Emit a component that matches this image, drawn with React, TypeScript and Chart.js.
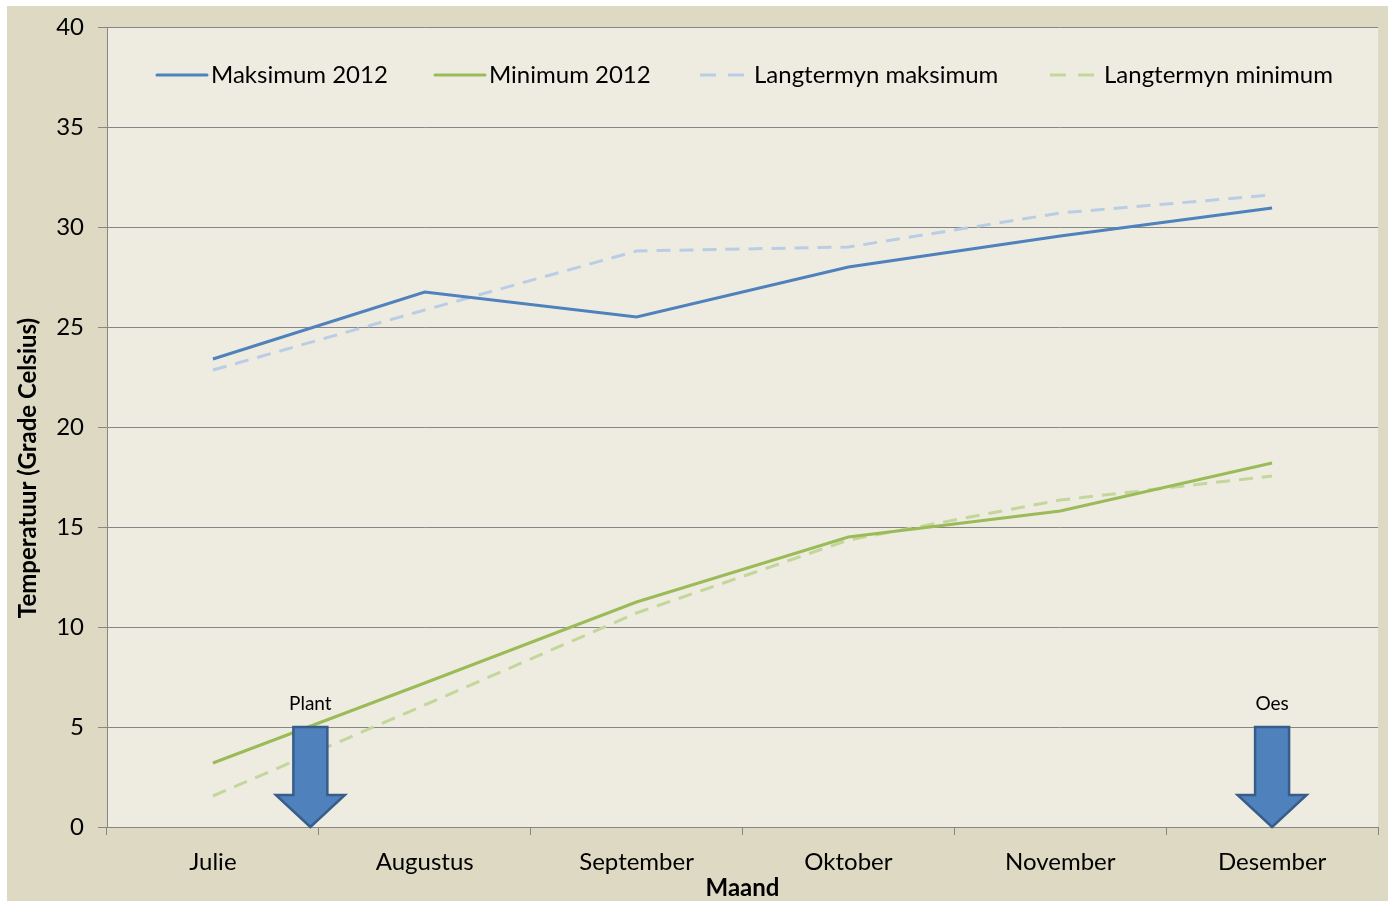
import React, { useEffect, useRef } from "react";
import { Chart, registerables } from "chart.js";

Chart.register(...registerables);

const months = ["Julie", "Augustus", "September", "Oktober", "November", "Desember"];
const maksimum2012 = [23.4, 26.75, 25.5, 28.0, 29.55, 30.95];
const minimum2012 = [3.2, 7.2, 11.25, 14.5, 15.8, 18.2];
const langMaksimum = [22.85, 25.85, 28.8, 29.0, 30.7, 31.6];
const langMinimum = [1.55, 6.1, 10.7, 14.35, 16.35, 17.55];
const seriesNames = ["Maksimum 2012", "Minimum 2012", "Langtermyn maksimum", "Langtermyn minimum"];
const yMin = 0;
const yMax = 40;
const yStep = 5;
const arrowLabels = ["Plant", "Oes"];
const arrowCategory = [0.46, 5];
const arrowTopValue = [5, 5];
const xTitle = "Maand";
const yTitle = "Temperatuur (Grade Celsius)";

const FONT = "Lato, 'Open Sans', sans-serif";
const GRID = "#868686";
const legendStarts = [150, 428, 693, 1043];

const customPlugin = {
  id: "excelLook",
  beforeDraw(chart: any) {
    const { ctx, chartArea: a, width, height } = chart;
    ctx.save();
    ctx.fillStyle = "#ddd9c3";
    ctx.fillRect(0, 0, width, height);
    ctx.fillStyle = "#eeece1";
    ctx.fillRect(a.left, a.top, a.right - a.left, a.bottom - a.top);
    ctx.restore();
  },
  afterDraw(chart: any) {
    const { ctx } = chart;
    const xs = chart.scales.x;
    const ys = chart.scales.y;
    ctx.save();
    // arrows
    arrowLabels.forEach((lab, i) => {
      const c = arrowCategory[i];
      const i0 = Math.floor(c);
      const p0 = xs.getPixelForValue(i0);
      const p1 = xs.getPixelForValue(i0 + 1);
      const cx = p0 + (p1 - p0) * (c - i0);
      const top = ys.getPixelForValue(arrowTopValue[i]);
      const tip = ys.getPixelForValue(0);
      const sw = 17;
      const hw = 34.5;
      const headStart = tip - 32;
      ctx.beginPath();
      ctx.moveTo(cx - sw, top);
      ctx.lineTo(cx + sw, top);
      ctx.lineTo(cx + sw, headStart);
      ctx.lineTo(cx + hw, headStart);
      ctx.lineTo(cx, tip);
      ctx.lineTo(cx - hw, headStart);
      ctx.lineTo(cx - sw, headStart);
      ctx.closePath();
      ctx.fillStyle = "#4f81bd";
      ctx.fill();
      ctx.strokeStyle = "#385d8a";
      ctx.lineWidth = 2.5;
      ctx.lineJoin = "miter";
      ctx.stroke();
      ctx.fillStyle = "#000";
      ctx.font = `19px ${FONT}`;
      ctx.textAlign = "center";
      ctx.textBaseline = "middle";
      ctx.fillText(lab, cx, top - 23);
    });
    // legend
    const ds = chart.data.datasets;
    ctx.font = `24px ${FONT}`;
    ctx.textAlign = "left";
    ctx.textBaseline = "middle";
    const ly = 69;
    ds.forEach((d: any, i: number) => {
      const x0 = legendStarts[i];
      const dashed = d.borderDash && d.borderDash.length;
      ctx.beginPath();
      ctx.strokeStyle = d.borderColor;
      ctx.lineWidth = 3;
      ctx.lineCap = dashed ? "butt" : "round";
      ctx.setLineDash(dashed ? [16, 12] : []);
      ctx.moveTo(x0, ly);
      ctx.lineTo(x0 + (dashed ? 44 : 50), ly);
      ctx.stroke();
      ctx.setLineDash([]);
      ctx.fillStyle = "#000";
      ctx.fillText(d.label, x0 + 54, ly);
    });
    // y title
    ctx.translate(21, 462);
    ctx.rotate(-Math.PI / 2);
    ctx.font = `bold 24px ${FONT}`;
    ctx.textAlign = "center";
    ctx.textBaseline = "middle";
    ctx.fillStyle = "#000";
    ctx.fillText(yTitle, 0, 0);
    ctx.restore();
  },
};

export default function App() {
  const ref = useRef<HTMLCanvasElement | null>(null);
  useEffect(() => {
    if (!ref.current) return;
    const chart = new Chart(ref.current, {
      type: "line",
      data: {
        labels: months,
        datasets: [
          { label: seriesNames[0], data: maksimum2012, borderColor: "#4f81bd", borderWidth: 3, pointRadius: 0, tension: 0, borderDash: [] },
          { label: seriesNames[1], data: minimum2012, borderColor: "#9bbb59", borderWidth: 3, pointRadius: 0, tension: 0, borderDash: [] },
          { label: seriesNames[2], data: langMaksimum, borderColor: "#b9cde5", borderWidth: 3, pointRadius: 0, tension: 0, borderDash: [14, 9] },
          { label: seriesNames[3], data: langMinimum, borderColor: "#c3d69b", borderWidth: 3, pointRadius: 0, tension: 0, borderDash: [14, 9] },
        ],
      },
      options: {
        animation: false,
        responsive: false,
        layout: { padding: { top: 21, right: 10, left: 0, bottom: 0 } },
        plugins: { legend: { display: false }, tooltip: { enabled: false }, title: { display: false } },
        scales: {
          x: {
            type: "category",
            offset: true,
            grid: { display: true, drawOnChartArea: false, drawTicks: true, tickLength: 8, offset: true, color: GRID },
            border: { display: true, color: GRID, width: 1 },
            ticks: { color: "#000", font: { family: FONT, size: 24 }, padding: 13, maxRotation: 0, autoSkip: false },
            title: { display: true, text: xTitle, color: "#000", font: { family: FONT, size: 24, weight: "bold" }, padding: { top: 0, bottom: -2 } },
            afterFit: (s: any) => { s.height = 74; s.paddingLeft = 0; s.paddingRight = 0; },
          },
          y: {
            min: yMin,
            max: yMax,
            ticks: { stepSize: yStep, color: "#000", font: { family: FONT, size: 24 }, padding: 14 },
            grid: { color: GRID, tickLength: 9, drawTicks: true },
            border: { display: true, color: GRID },
            afterFit: (s: any) => { s.width = 100; s.paddingTop = 0; s.paddingBottom = 0; },
          },
        },
      },
      plugins: [customPlugin],
    } as any);
    return () => chart.destroy();
  }, []);
  return (
    <div style={{ position: "absolute", left: 7, top: 6, width: 1381, height: 895 }}>
      <canvas ref={ref} width={1381} height={895} style={{ display: "block" }} />
    </div>
  );
}
